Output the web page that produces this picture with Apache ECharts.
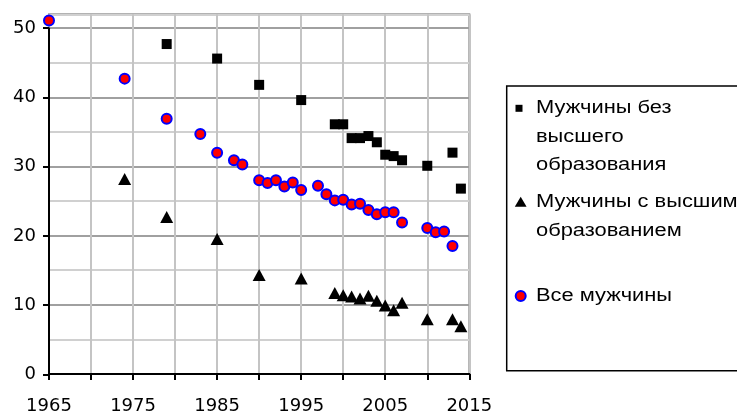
<!DOCTYPE html>
<html>
<head>
<meta charset="utf-8">
<script src="https://cdn.jsdelivr.net/npm/echarts@6/dist/echarts.min.js"></script>
<style>html,body{margin:0;padding:0;background:#fff;}#c{width:737px;height:415px;}</style>
</head>
<body>
<div id="c"></div>
<script>
// Data
var seriesNames = ['Мужчины без высшего образования', 'Мужчины с высшим образованием', 'Все мужчины'];
var noHigherYears = [1979, 1985, 1990, 1995, 1999, 2000, 2001, 2002, 2003, 2004, 2005, 2006, 2007, 2010, 2013, 2014];
var noHigherVals  = [47.7, 45.6, 41.8, 39.6, 36.1, 36.1, 34.1, 34.1, 34.4, 33.5, 31.7, 31.5, 30.9, 30.1, 32.0, 26.8];
var higherYears = [1974, 1979, 1985, 1990, 1995, 1999, 2000, 2001, 2002, 2003, 2004, 2005, 2006, 2007, 2010, 2013, 2014];
var higherVals  = [28.2, 22.7, 19.5, 14.3, 13.8, 11.7, 11.4, 11.2, 10.9, 11.3, 10.6, 9.9, 9.2, 10.3, 7.9, 7.9, 6.9];
var allYears = [1965, 1974, 1979, 1983, 1985, 1987, 1988, 1990, 1991, 1992, 1993, 1994, 1995, 1997, 1998, 1999, 2000, 2001, 2002, 2003, 2004, 2005, 2006, 2007, 2010, 2011, 2012, 2013];
var allVals  = [51.1, 42.7, 36.9, 34.7, 32.0, 30.9, 30.3, 28.0, 27.6, 28.0, 27.1, 27.7, 26.6, 27.2, 26.0, 25.1, 25.2, 24.5, 24.6, 23.7, 23.1, 23.4, 23.4, 21.9, 21.1, 20.5, 20.6, 18.5];
var xTickLabels = [1965, 1975, 1985, 1995, 2005, 2015];
var yTickLabels = [0, 10, 20, 30, 40, 50];
var legendLines = [['Мужчины без', 'высшего', 'образования'], ['Мужчины с высшим', 'образованием'], ['Все мужчины']];

function zip(xs, ys) { return xs.map(function (x, i) { return [x, ys[i]]; }); }

var chart = echarts.init(document.getElementById('c'), null, {renderer: 'canvas'});
var axisFont = {fontFamily: 'DejaVu Sans', fontSize: 18, color: '#000'};

var L = 49, R = 267.7, T = 14.3, B = 40.7;
var plotH = 415 - T - B;
var top50 = T + plotH * 2 / 52;

var legX = 536, legFont = '17.5px "Liberation Sans"';
function legText(t, y) {
  return {type: 'text', x: legX, y: y, scaleX: 1.25, z: 10,
    style: {text: t, x: 0, y: 0, font: legFont, fill: '#000', verticalAlign: 'middle', align: 'left'}};
}
var legendY = [[108.3, 136.7, 165], [201.7, 230.7], [296]];
var graphics = [
  {type: 'rect', shape: {x: 506.7, y: 86, width: 240, height: 284.7}, style: {fill: '#fff', stroke: '#000', lineWidth: 1.5}, z: 5},
  {type: 'rect', shape: {x: 515.5, y: 104.8, width: 7, height: 7}, style: {fill: '#000'}, z: 10},
  {type: 'polygon', shape: {points: [[514.8, 206.7], [526.6, 206.7], [520.7, 196.7]]}, style: {fill: '#000'}, z: 10},
  {type: 'circle', shape: {cx: 520.7, cy: 296, r: 5}, style: {fill: '#ff0000', stroke: '#0000ff', lineWidth: 2}, z: 10}
];
legendLines.forEach(function (lines, i) {
  lines.forEach(function (t, j) { graphics.push(legText(t, legendY[i][j])); });
});

chart.setOption({
  animation: false,
  backgroundColor: '#fff',
  grid: [
    {left: L, right: R, top: T, bottom: B, show: true, borderColor: '#999', borderWidth: 2, backgroundColor: 'transparent'},
    {left: L, right: R, top: top50, bottom: B, show: false}
  ],
  xAxis: [{
    type: 'value', gridIndex: 0, min: 1965, max: 2015, interval: 5,
    axisLine: {show: true, onZero: false, lineStyle: {color: '#000', width: 2}},
    axisTick: {show: true, inside: false, length: 6, lineStyle: {color: '#000', width: 2}},
    axisLabel: Object.assign({margin: 23, formatter: function (v) { return xTickLabels.indexOf(v) >= 0 ? String(v) : ''; }}, axisFont),
    splitLine: {show: true, lineStyle: {color: '#c4c4c4', width: 2}}
  }, {
    type: 'value', gridIndex: 1, min: 1965, max: 2015, show: false
  }],
  yAxis: [{
    type: 'value', gridIndex: 0, min: 0, max: 52, interval: 5,
    axisLine: {show: false}, axisTick: {show: false}, axisLabel: {show: false},
    splitLine: {show: true, lineStyle: {color: ['#a0a0a0', '#d0d0d0'], width: 2}}
  }, {
    type: 'value', gridIndex: 1, min: 0, max: 50, interval: 10,
    axisLine: {show: true, onZero: false, lineStyle: {color: '#000', width: 2}},
    axisTick: {show: true, inside: false, length: 6, lineStyle: {color: '#000', width: 2}},
    axisLabel: Object.assign({margin: 13, formatter: function (v) { return yTickLabels.indexOf(v) >= 0 ? String(v) : ''; }}, axisFont),
    splitLine: {show: false}
  }],
  series: [{
    name: seriesNames[0], type: 'scatter', xAxisIndex: 0, yAxisIndex: 0,
    symbol: 'rect', symbolSize: 10, itemStyle: {color: '#000', opacity: 1},
    data: zip(noHigherYears, noHigherVals), z: 3
  }, {
    name: seriesNames[1], type: 'scatter', xAxisIndex: 0, yAxisIndex: 0,
    symbol: 'triangle', symbolSize: [13, 12], itemStyle: {color: '#000', opacity: 1},
    data: zip(higherYears, higherVals), z: 3
  }, {
    name: seriesNames[2], type: 'scatter', xAxisIndex: 0, yAxisIndex: 0,
    symbol: 'circle', symbolSize: 10, itemStyle: {color: '#ff0000', borderColor: '#0000ff', borderWidth: 2, opacity: 1},
    data: zip(allYears, allVals), z: 4, clip: false
  }],
  graphic: graphics
});
</script>
</body>
</html>
